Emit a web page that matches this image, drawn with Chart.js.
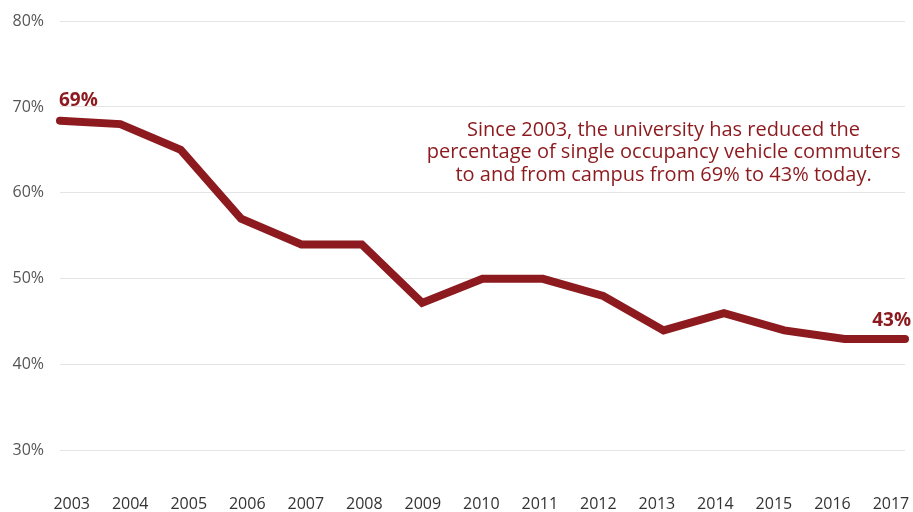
<!DOCTYPE html>
<html>
<head>
<meta charset="utf-8">
<script src="https://cdn.jsdelivr.net/npm/chart.js@4.4.1/dist/chart.umd.min.js"></script>
<style>
  html, body { margin: 0; padding: 0; background: #ffffff; }
  #wrap { width: 913px; height: 512px; position: relative; }
</style>
</head>
<body>
<div id="wrap"><canvas id="c" width="913" height="512"></canvas></div>
<script>
const years = ['2003','2004','2005','2006','2007','2008','2009','2010','2011','2012','2013','2014','2015','2016','2017'];
const sovShare = [68.4, 68.0, 65.0, 57.0, 54.0, 54.0, 47.2, 50.0, 50.0, 48.0, 44.0, 46.0, 44.0, 43.0, 43.0];
const yTicks = [30, 40, 50, 60, 70, 80];
const endLabels = ['69%', '43%'];
const noteLines = [
  'Since 2003, the university has reduced the',
  'percentage of single occupancy vehicle commuters',
  'to and from campus from 69% to 43% today.'
];

const RED = '#8c1a1e';

const annotPlugin = {
  id: 'annot',
  afterDatasetsDraw(chart) {
    const { ctx, scales: { x, y } } = chart;
    ctx.save();
    ctx.fillStyle = RED;
    ctx.textBaseline = 'alphabetic';
    ctx.font = 'bold 19px "Open Sans"';
    ctx.textAlign = 'left';
    ctx.fillText(endLabels[0], x.getPixelForValue(0) - 1, y.getPixelForValue(sovShare[0]) - 15);
    ctx.textAlign = 'right';
    ctx.fillText(endLabels[1], x.getPixelForValue(sovShare.length - 1) + 6, y.getPixelForValue(sovShare[sovShare.length - 1]) - 13);
    ctx.font = '20px "Open Sans"';
    ctx.textAlign = 'center';
    const cx = x.getPixelForValue(10);
    const y0 = y.getPixelForValue(67.4) + 6.5;
    noteLines.forEach((t, i) => ctx.fillText(t, cx, y0 + i * 22.7));
    ctx.restore();
  }
};

new Chart(document.getElementById('c'), {
  type: 'line',
  data: {
    labels: years,
    datasets: [{
      data: sovShare,
      xAxisID: 'x',
      borderColor: RED,
      backgroundColor: RED,
      borderWidth: 8,
      borderCapStyle: 'round',
      borderJoinStyle: 'miter',
      pointRadius: 0,
      tension: 0,
      fill: false,
      clip: false
    }]
  },
  options: {
    responsive: false,
    animation: false,
    devicePixelRatio: 1,
    layout: { padding: { top: 21, right: 8, bottom: 0, left: 0 } },
    plugins: { legend: { display: false }, tooltip: { enabled: false } },
    scales: {
      x: {
        display: false,
        offset: false
      },
      xl: {
        type: 'linear',
        position: 'bottom',
        min: -0.2,
        max: 14.24,
        afterBuildTicks(axis) { axis.ticks = years.map((_, i) => ({ value: i })); },
        afterFit(axis) { axis.height = 61.3; axis.paddingLeft = 0; axis.paddingRight = 0; },
        grid: { display: false, drawTicks: false },
        border: { display: false },
        ticks: {
          color: '#333333',
          font: { family: '"Open Sans"', size: 16 },
          padding: 44,
          maxRotation: 0,
          autoSkip: false,
          callback: v => years[v]
        }
      },
      y: {
        min: 30,
        max: 80,
        afterBuildTicks(axis) { axis.ticks = yTicks.map(v => ({ value: v })); },
        afterFit(axis) { axis.width = 60; axis.paddingTop = 0; axis.paddingBottom = 0; },
        grid: { color: '#e4e4e4', lineWidth: 1, drawTicks: false },
        border: { display: false },
        ticks: {
          color: '#555555',
          font: { family: '"Open Sans"', size: 16 },
          padding: 16,
          callback: v => v + '%'
        }
      }
    }
  },
  plugins: [annotPlugin]
});
</script>
</body>
</html>
